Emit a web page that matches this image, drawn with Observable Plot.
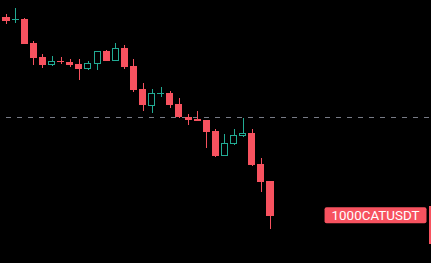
<!DOCTYPE html>
<html><head><meta charset="utf-8">
<script src="https://cdn.jsdelivr.net/npm/d3@7"></script>
<script src="https://cdn.jsdelivr.net/npm/@observablehq/plot@0.6"></script>
<style>html,body{margin:0;padding:0;background:#000;overflow:hidden;width:431px;height:263px}</style>
</head><body><div id="chart"></div>
<script>
// Candle index (0 is the partially visible candle at the left edge)
const candleIndex = [0,1,2,3,4,5,6,7,8,9,10,11,12,13,14,15,16,17,18,19,20,21,22,23,24,25,26,27,28,29,30];
const openPrices  = [287,283,280,281,257,243,235,239,238,236,231,236,249,239,252,234,211,194,206,207,196,183,181,180,169,144,156,164,167,136,119];
const highPrices  = [288,286,292,282,259,246,244,243,241,241,239,249,250,257,255,241,217,211,213,209,202,186,189,180,171,166,171,182,171,142,119];
const lowPrices   = [282,276,277,256,235,232,234,236,233,220,230,230,239,239,231,208,189,187,203,192,182,175,179,152,143,144,155,163,134,108,71];
const closePrices = [283,279,281,256,242,235,239,238,235,231,237,249,239,252,233,210,195,207,207,195,183,180,179,168,144,157,165,167,135,118,84];
const symbolLabel = "1000CATUSDT";
const priceLine = 182.5;

const upColor = "#22ab94";
const downColor = "#f7525f";
const halfBody = 0.385;

const candles = candleIndex.map((i, k) => ({
  i, open: openPrices[k], high: highPrices[k], low: lowPrices[k], close: closePrices[k],
  up: closePrices[k] > openPrices[k]
}));
const filled = candles.filter(d => !d.up || Math.abs(d.close - d.open) <= 1);
const hollow = candles.filter(d => d.up && Math.abs(d.close - d.open) > 1);
const lastClose = closePrices[closePrices.length - 1];
const xDomain = [0.286, 47.63];

const chart = Plot.plot({
  width: 431, height: 263,
  margin: 0,
  style: {background: "#000", color: "#fff"},
  x: {type: "linear", domain: xDomain, axis: null},
  y: {domain: [37, 300], axis: null},
  color: {type: "identity"},
  marks: [
    Plot.ruleY([priceLine], {stroke: "#787b86", strokeWidth: 1, strokeDasharray: "5,6", strokeDashoffset: 5, dy: -0.5, shapeRendering: "crispEdges"}),
    Plot.ruleX(candles, {x: "i", y1: "low", y2: "high", stroke: d => d.up ? upColor : downColor, strokeWidth: 1, dx: -0.5, shapeRendering: "crispEdges", clip: true}),
    Plot.rect(filled, {x1: d => d.i - halfBody, x2: d => d.i + halfBody, y1: "open", y2: "close", fill: d => d.up ? upColor : downColor, dx: -0.5, dy: -0.5, shapeRendering: "crispEdges", clip: true}),
    Plot.rect(hollow, {x1: d => d.i - halfBody, x2: d => d.i + halfBody, y1: "open", y2: "close", fill: "#000", stroke: upColor, strokeWidth: 1, inset: 0.5, dx: -0.5, dy: -0.5, shapeRendering: "crispEdges", clip: true}),
    Plot.ruleX([xDomain[1]], {y1: lastClose + 10, y2: lastClose - 28, stroke: downColor, strokeWidth: 4, dx: -0.5}),
    Plot.text([lastClose], {y: d => d, frameAnchor: "right", text: () => symbolLabel, textAnchor: "end", dx: -12, dy: -1, fill: "#fff", fontSize: 13.4, fontFamily: "Roboto", lineAnchor: "middle"})
  ]
});
document.getElementById("chart").appendChild(chart);

// Label background box sized from the text
const texts = chart.querySelectorAll("text");
const t = texts[texts.length - 1];
if (t) {
  const bb = t.getBBox();
  const r = document.createElementNS("http://www.w3.org/2000/svg", "rect");
  r.setAttribute("x", bb.x - 7);
  r.setAttribute("width", bb.width + 14);
  r.setAttribute("y", bb.y + bb.height / 2 - 8);
  r.setAttribute("height", 16);
  r.setAttribute("rx", 2);
  r.setAttribute("fill", downColor);
  const tr = t.getAttribute("transform");
  if (tr) r.setAttribute("transform", tr);
  t.parentNode.insertBefore(r, t);
}
</script>
</body></html>
